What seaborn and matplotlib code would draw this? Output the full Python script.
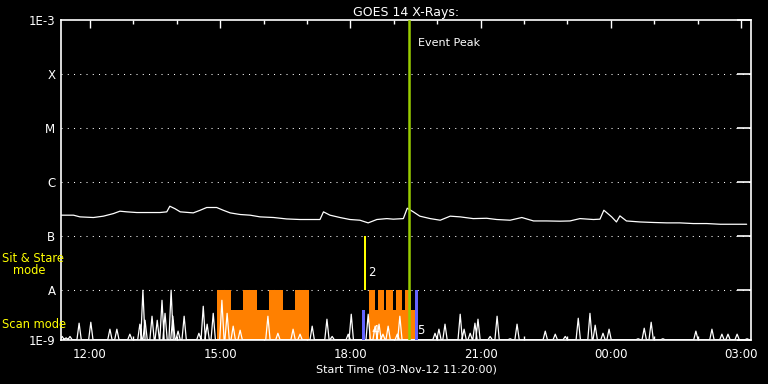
import numpy as np
import pandas as pd
import matplotlib
matplotlib.use("Agg")
import matplotlib.pyplot as plt
from matplotlib.ticker import FixedLocator, NullLocator
import seaborn as sns

# GOES 14 long channel flux (hour of 03-Nov-12, flux in 1e-7 W/m^2)
flux_hours = [11.34, 11.62, 11.77, 12.08, 12.31, 12.54, 12.69, 12.85, 13.08, 13.31,
              13.61, 13.77, 13.84, 13.96, 14.08, 14.38, 14.54, 14.69, 14.92, 15.07,
              15.23, 15.46, 15.69, 15.92, 16.23, 16.53, 16.84, 17.15, 17.30, 17.38,
              17.53, 17.76, 17.99, 18.22, 18.41, 18.61, 18.84, 18.99, 19.22, 19.31,
              19.45, 19.60, 19.84, 20.07, 20.30, 20.53, 20.83, 21.14, 21.37, 21.68,
              21.95, 22.22, 22.52, 22.83, 23.06, 23.29, 23.60, 23.75, 23.84, 24.02,
              24.13, 24.21, 24.36, 24.67, 24.98, 25.29, 25.59, 25.90, 26.21, 26.52,
              26.82, 27.13]
flux_e7 = [2.43, 2.43, 2.26, 2.20, 2.33, 2.60, 2.88, 2.80, 2.72, 2.72,
           2.72, 2.80, 3.56, 3.20, 2.80, 2.68, 3.00, 3.37, 3.37, 3.00,
           2.68, 2.50, 2.43, 2.26, 2.20, 2.07, 2.02, 2.02, 2.02, 2.80,
           2.43, 2.20, 2.02, 1.96, 1.75, 2.02, 2.10, 2.05, 2.10, 3.27,
           2.80, 2.33, 2.10, 1.96, 2.33, 2.26, 2.10, 2.13, 2.02, 1.96,
           2.20, 1.90, 1.90, 1.88, 1.90, 2.10, 2.02, 2.05, 3.00, 2.26,
           1.82, 2.36, 1.90, 1.82, 1.78, 1.75, 1.75, 1.70, 1.70, 1.65,
           1.65, 1.65]

# low level spikes near the bottom (peak hour, peak flux in 1e-9)
spike_hours = [11.36, 11.45, 11.54, 11.75, 12.02, 12.46, 12.62, 12.92, 13.15, 13.22,
               13.27, 13.43, 13.55, 13.66, 13.73, 13.87, 13.91, 14.03, 14.17, 14.51,
               14.61, 14.70, 14.84, 15.04, 15.16, 15.30, 15.46, 16.10, 16.33, 16.68,
               16.84, 17.12, 17.46, 17.58, 17.95, 18.02, 18.41, 18.57, 18.66, 18.75,
               18.87, 19.08, 19.14, 19.95, 20.04, 20.18, 20.53, 20.62, 20.76, 20.87,
               20.94, 21.22, 21.38, 21.68, 21.84, 22.49, 22.72, 22.95, 23.25, 23.52,
               23.64, 23.82, 23.96, 24.63, 24.77, 24.93, 25.20, 25.55, 25.96, 26.33,
               26.56, 26.70, 26.91, 27.14]
spike_e9 = [1.38, 1.30, 1.38, 2.43, 2.53, 1.88, 1.88, 1.52, 2.33, 9.90,
            2.75, 3.27, 2.75, 6.45, 3.70, 9.90, 3.27, 1.73, 3.27, 1.58,
            5.00, 2.33, 3.70, 6.45, 3.70, 2.14, 1.80, 3.27, 1.58, 1.88,
            1.52, 2.14, 2.88, 1.38, 1.52, 3.56, 3.56, 2.14, 2.33, 1.52,
            2.14, 1.52, 3.27, 1.58, 1.88, 2.33, 3.56, 1.88, 1.58, 2.43,
            2.88, 1.38, 3.27, 1.25, 2.33, 1.73, 1.52, 1.38, 3.00, 3.70,
            2.23, 1.58, 1.88, 1.25, 1.96, 2.53, 1.25, 1.20, 1.73, 1.88,
            1.52, 1.52, 1.52, 1.25]

# scan mode blocks (segment edges in hours, top of each segment in 1e-9)
scan_edges = [[14.92, 15.25, 15.53, 15.85, 16.13, 16.45, 16.73, 17.05],
              [18.42, 18.56, 18.64, 18.77, 18.83, 18.99, 19.06, 19.18, 19.26, 19.40, 19.49]]
scan_tops = [[10, 4.2, 10, 4.2, 10, 4.2, 10],
             [10, 4.2, 10, 4.2, 10, 4.2, 10, 4.2, 10, 4.2]]

# other markers
blue_hours = [18.27, 19.49]
blue_tops_e9 = [4.2, 10]
stare_hours = [18.31, 18.36]
stare_range = [1e-8, 1.02e-7]
peak_hour = 19.34
marks = ["2", "4", "5"]
mark_hours = [18.49, 18.57, 19.62]
mark_flux = [2.1e-8, 1.75e-9, 1.75e-9]

xticks = [12, 15, 18, 21, 24, 27]
xtick_labels = ["12:00", "15:00", "18:00", "21:00", "00:00", "03:00"]
ylevels = [10 ** -8.926, 1e-8, 1e-7, 1e-6, 1e-5, 1e-4, 1e-3]
ylabels = ["1E-9", "A", "B", "C", "M", "X", "1E-3"]

sns.set_style("dark")
plt.rcParams["font.family"] = ["DejaVu Sans"]
plt.rcParams["figure.facecolor"] = "black"
plt.rcParams["axes.facecolor"] = "black"

fig = plt.figure(figsize=(7.68, 3.84), dpi=100)
ax = fig.add_axes([61 / 768, 44 / 384, 690 / 768, 320 / 384])
ax.set_yscale("log")
ylo = ylevels[0]

# scan mode (orange)
for edges, tops in zip(scan_edges, scan_tops):
    left = np.array(edges[:-1])
    width = np.diff(edges)
    ax.bar(left, np.array(tops) * 1e-9 - ylo, bottom=ylo, width=width, align="edge",
           color="#ff8000", linewidth=0, zorder=2)

# low spikes
sx, sy = [], []
for t, v in zip(spike_hours, spike_e9):
    sx += [t - 0.05, t, t + 0.05]
    sy += [1.2e-9, v * 1e-9, 1.2e-9]
low = pd.DataFrame({"hour": sx, "flux": sy})
sns.lineplot(data=low, x="hour", y="flux", ax=ax, color="white", lw=0.9,
             estimator=None, sort=False, zorder=3)

# blue markers
ax.bar(blue_hours, np.array(blue_tops_e9) * 1e-9 - ylo, bottom=ylo, width=0.07,
       align="edge", color="#6464ff", linewidth=0, zorder=4)
# sit & stare (yellow)
ax.fill_between(stare_hours, stare_range[0], stare_range[1], color="#ffff00",
                linewidth=0, zorder=4)

# main flux curve
goes = pd.DataFrame({"hour": flux_hours, "flux": np.array(flux_e7) * 1e-7})
sns.lineplot(data=goes, x="hour", y="flux", ax=ax, color="white", lw=0.9,
             estimator=None, zorder=5)

for m, t, f in zip(marks, mark_hours, mark_flux):
    ax.text(t, f, m, color="white", fontsize=8.5, ha="center", va="center", zorder=6)

# event peak
ax.axvline(peak_hour, color="#99cc00", lw=1.8, zorder=6)
ax.text(peak_hour + 0.22, 3.7e-4, "Event Peak", color="white", fontsize=8,
        va="center", ha="left")

ax.set_xlim(11.333, 27.23)
ax.set_ylim(ylo, 1e-3)
ax.yaxis.set_major_locator(FixedLocator(ylevels))
ax.yaxis.set_minor_locator(NullLocator())
ax.set_yticklabels(ylabels)
ax.set_xticks(xticks)
ax.set_xticklabels(xtick_labels)
ax.xaxis.set_minor_locator(FixedLocator(np.arange(12, 28, 1)))

ax.grid(False)
for lvl in ylevels[1:-1]:
    ax.axhline(lvl, color="white", lw=0.75, ls=(0, (1, 5)), zorder=1)

ax.tick_params(axis="x", which="major", direction="in", length=6, width=1,
               color="white", labelcolor="white", labelsize=8.5, top=True, pad=6)
ax.tick_params(axis="x", which="minor", direction="in", length=3, width=1,
               color="white", top=True, bottom=True)
ax.tick_params(axis="y", which="major", direction="in", length=10, width=1.2,
               color="white", labelcolor="white", labelsize=8.5, right=True, pad=4)
for s in ax.spines.values():
    s.set_color("white")
    s.set_linewidth(1.2)

ax.set_title("GOES 14 X-Rays:", color="white", fontsize=9, pad=3)
ax.set_xlabel("Start Time (03-Nov-12 11:20:00)", color="white", fontsize=8, labelpad=2)
ax.set_ylabel("")

fig.text(2 / 768, 1 - 259 / 384, "Sit & Stare", color="#ffff00", fontsize=8.3,
         ha="left", va="center")
fig.text(13 / 768, 1 - 271 / 384, "mode", color="#ffff00", fontsize=8.3,
         ha="left", va="center")
fig.text(2 / 768, 1 - 324 / 384, "Scan mode", color="#ffff00", fontsize=8.3,
         ha="left", va="center")

fig.savefig("out.png", dpi=100, facecolor="black")
